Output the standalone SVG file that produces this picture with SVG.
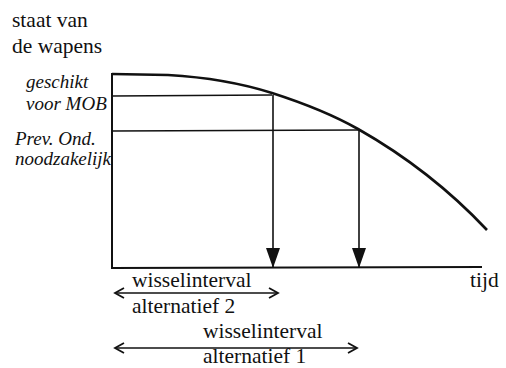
<svg xmlns="http://www.w3.org/2000/svg" width="506" height="368" viewBox="0 0 506 368">
<style>
text{font-family:"Liberation Serif","Times New Roman",serif;fill:#111}
.u{font-size:21.5px}
.i{font-size:19px;font-style:italic}
.ln{stroke:#111;fill:none}
</style>
<defs>
<marker id="tri" markerWidth="20" markerHeight="14" refX="20" refY="7" orient="auto" markerUnits="userSpaceOnUse" viewBox="0 0 20 14">
<path d="M0,0 L20,7 L0,14 Z" fill="#111"/>
</marker>
<marker id="open" markerWidth="12" markerHeight="12" refX="9" refY="6" orient="auto-start-reverse" markerUnits="userSpaceOnUse" viewBox="0 0 12 12">
<path d="M1,1 L10,6 L1,11" fill="none" stroke="#111" stroke-width="1.8"/>
</marker>
</defs>
<rect width="506" height="368" fill="#fff"/>
<g id="axis-labels">
<text class="u" x="12" y="27">staat van</text>
<text class="u" x="12" y="53">de wapens</text>
<text class="u" x="470" y="287">tijd</text>
</g>
<g id="level-labels">
<text class="i" x="26" y="88">geschikt</text>
<text class="i" x="26" y="110">voor MOB</text>
<text class="i" x="15" y="145">Prev. Ond.</text>
<text class="i" x="15" y="165">noodzakelijk</text>
</g>
<g id="axes">
<path class="ln" stroke-width="2" d="M112,73 L112,269 M111,268 L482,267"/>
</g>
<g id="curve">
<path class="ln" stroke-width="2.6" d="M112,74 L168,75 C220,78 250,86 272,93 C300,102 335,116 358,129 C395,150 440,180 487,230"/>
</g>
<g id="connectors">
<path class="ln" stroke-width="1.5" d="M112,96 L272,95 M112,131 L358,130"/>
<path class="ln" stroke-width="1.6" d="M273,95 L273,268" marker-end="url(#tri)"/>
<path class="ln" stroke-width="1.6" d="M359,130 L359,268" marker-end="url(#tri)"/>
<path class="ln" stroke-width="1.5" d="M116,293 L277,293" marker-start="url(#open)" marker-end="url(#open)"/>
<path class="ln" stroke-width="1.5" d="M116,348 L356,348" marker-start="url(#open)" marker-end="url(#open)"/>
</g>
<g id="interval-2">
<text class="u" x="132" y="287">wisselinterval</text>
<text class="u" x="132" y="313">alternatief 2</text>
</g>
<g id="interval-1">
<text class="u" x="203" y="338">wisselinterval</text>
<text class="u" x="203" y="363">alternatief 1</text>
</g>
</svg>
